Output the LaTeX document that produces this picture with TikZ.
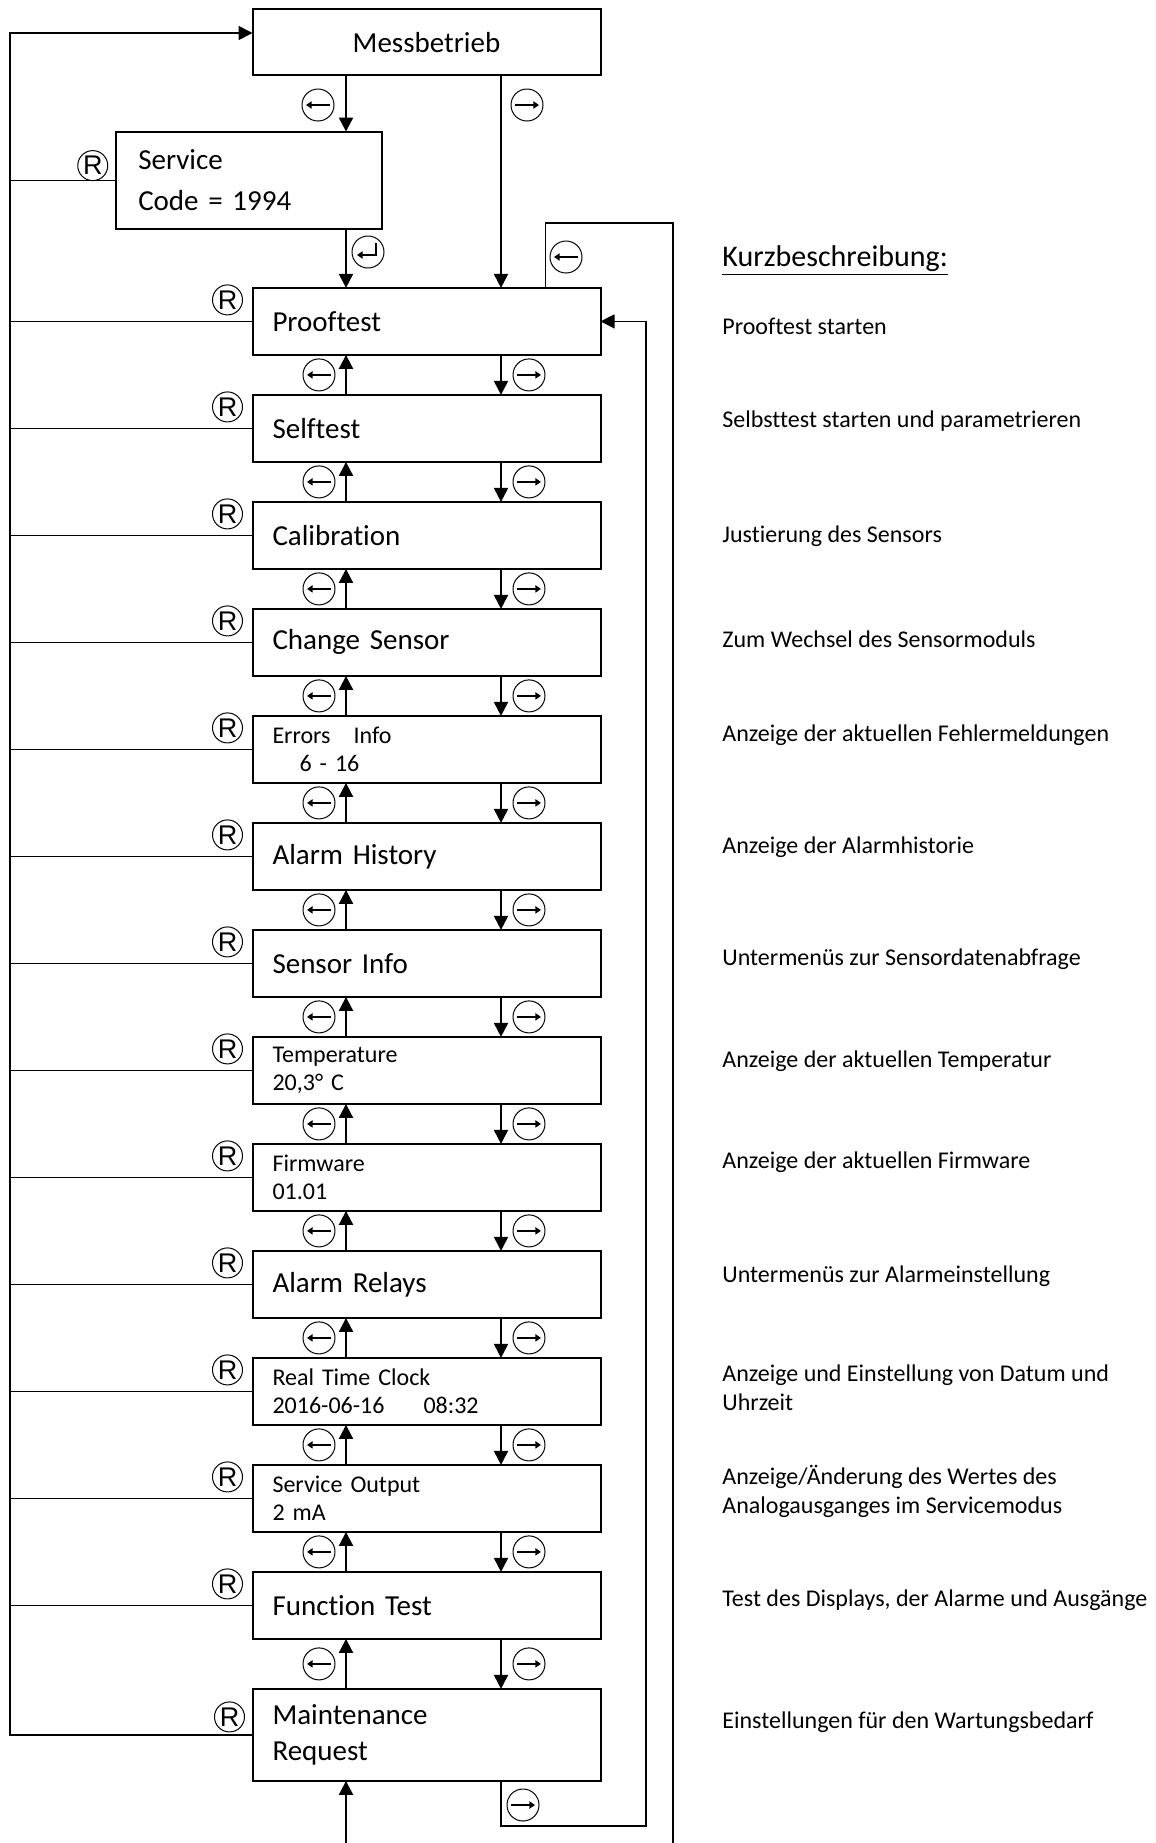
\documentclass[tikz,border=0pt]{standalone}
\usepackage{fontspec}
\setmainfont[Ligatures={NoCommon}]{Carlito}
\newfontfamily\resetfont{Liberation Sans}
\usepackage{tikz}
\usetikzlibrary{positioning}
\usetikzlibrary{arrows.meta}

\begin{document}
\begin{tikzpicture}[
      x=0.5pt, y=-0.5pt,
      >={Triangle[length=7pt,width=7pt]},
      menu/.style={draw, rectangle, line width=1pt, minimum width=174pt,
                   minimum height=33.5pt, text width=154pt, inner xsep=10pt,
                   inner ysep=0pt, outer sep=0pt, align=left,
                   font=\fontsize{14.5}{18.2}\selectfont},
      lcd/.style={menu, font=\fontsize{12}{14}\selectfont},
      nav/.style={->, line width=1pt},
      wire/.style={line width=0.6pt},
      rail/.style={line width=0.9pt},
      reset/.style={draw, circle, line width=0.5pt, minimum size=15pt,
                    inner sep=0pt, font=\resetfont\fontsize{13.5}{13.5}\selectfont},
      keytip/.style={line width=0.8pt, -{Triangle[length=2.8pt,width=3.6pt]}},
      navkey/.style={draw, circle, line width=0.5pt, minimum size=16pt,
                     inner sep=0pt, fill=white},
      keyleft/.style={navkey, path picture={
          \draw[keytip] ([xshift=6pt]path picture bounding box.center)
            -- ([xshift=-6pt]path picture bounding box.center);}},
      keyright/.style={navkey, path picture={
          \draw[keytip] ([xshift=-6pt]path picture bounding box.center)
            -- ([xshift=6pt]path picture bounding box.center);}},
      keyenter/.style={navkey, path picture={
          \draw[keytip] ([shift={(4pt,4.5pt)}]path picture bounding box.center)
            -- ([shift={(4pt,-1.5pt)}]path picture bounding box.center)
            -- ([shift={(-5.5pt,-1.5pt)}]path picture bounding box.center);}},
      desc/.style={anchor=west, align=left, inner sep=0pt,
                   font=\fontsize{12}{14.6}\selectfont}
    ]
    \useasboundingbox (0,0) rectangle (1156,1843);

    % Start screen and service login
    \node[menu, minimum height=33pt, align=center] (mess) at (426.5,42.3) {Messbetrieb};
    \node[menu, minimum width=132.75pt, minimum height=48.7pt, text width=110.75pt,
          inner xsep=11pt, font=\fontsize{14.5}{20.5}\selectfont]
          (service) at (249,180.3) {Service\\Code = 1994};

    % Service menu
    \node[menu, below=106.3pt of mess] (prooftest) {Prooftest};
    \node[menu, below=20pt of prooftest] (selftest) {Selftest};
    \node[menu, below=20pt of selftest] (calib) {Calibration};
    \node[menu, below=20pt of calib] (sensor) {Change Sensor};
    \node[lcd, below=20pt of sensor] (errors) {Errors\hspace{11.5pt}Info\\\hspace*{13.5pt}6 - 16};
    \node[menu, below=20pt of errors] (history) {Alarm History};
    \node[menu, below=20pt of history] (info) {Sensor Info};
    \node[lcd, below=20pt of info] (temp) {Temperature\\20,3° C};
    \node[lcd, below=20pt of temp] (firmware) {Firmware\\01.01};
    \node[menu, below=20pt of firmware] (relays) {Alarm Relays};
    \node[lcd, below=20pt of relays] (clock) {Real Time Clock\\2016-06-16\hspace{19.5pt}08:32};
    \node[lcd, below=20pt of clock] (output) {Service Output\\2 mA};
    \node[menu, below=20pt of output] (functest) {Function Test};
    \node[menu, minimum height=46pt, below=25pt of functest] (maint) {Maintenance\\Request};

    % Entry into the menu
    \draw[nav] ([xshift=-40.25pt]mess.south) -- ([xshift=-40.25pt]mess.south |- service.north);
    \draw[nav] ([xshift=37.25pt]mess.south) -- ([xshift=37.25pt]prooftest.north);
    \draw[nav] ([xshift=-40.25pt]mess.south |- service.south) -- ([xshift=-40.25pt]prooftest.north);
    \node[keyleft] (kl-service) at (318,105) {};
    \node[keyright] (kr-prooftest) at (527,105) {};
    \node[keyenter] (ke-service) at (368,252) {};

    % Scrolling between menu items
    \foreach \upper/\lower in {prooftest/selftest, selftest/calib, calib/sensor,
        sensor/errors, errors/history, history/info, info/temp, temp/firmware,
        firmware/relays, relays/clock, clock/output, output/functest, functest/maint} {
      \draw[nav] ([xshift=-40.25pt]\lower.north) -- ([xshift=-40.25pt]\upper.south);
      \draw[nav] ([xshift=37.25pt]\upper.south) -- ([xshift=37.25pt]\lower.north);
      \path ([xshift=-53.75pt]\upper.south) -- node[keyleft] (kl-\lower) {}
            ([xshift=-53.75pt]\lower.north);
      \path ([xshift=51.25pt]\upper.south) -- node[keyright] (kr-\lower) {}
            ([xshift=51.25pt]\lower.north);
    }

    % Reset back to Messbetrieb
    \coordinate (railtop) at (10,33);
    \draw[rail, ->] (maint.west) -| (railtop) -- (railtop -| mess.west);
    \foreach \b in {service, prooftest, selftest, calib, sensor, errors, history,
        info, temp, firmware, relays, clock, output, functest}
      \draw[wire] (railtop |- \b.west) -- (\b.west);
    \node[reset] (r-service) at ([xshift=-11.75pt,yshift=-17pt]service.north west) {R};
    \foreach \b in {prooftest, selftest, calib, sensor, errors, history,
        info, temp, firmware, relays, clock, output, functest}
      \node[reset] (r-\b) at ([xshift=-12.5pt,yshift=-6pt]\b.north west) {R};
    \node[reset] (r-maint) at ([xshift=-11.5pt,yshift=-14pt]maint.north west) {R};

    % Wrap-around loops
    \coordinate (looptop) at (673,223);
    \coordinate (loopend) at (673,1843);
    \draw[wire] ([xshift=59.6pt]prooftest.north) |- (looptop) -- (loopend);
    \node[keyleft] (kl-loop) at (566,257) {};
    \coordinate (retcorner) at (646,1826);
    \draw[wire, ->] ([xshift=37.25pt]maint.south) |- (retcorner) |- (prooftest.east);
    \node[keyright] (kr-maint) at (523,1805) {};
    \coordinate (entry) at (346,1843);
    \draw[nav] (entry) -- (entry |- maint.south);

    % Short descriptions
    \node[desc, font=\fontsize{15}{18}\selectfont] (title) at (722,261) {\underline{Kurzbeschreibung:}};
    \node[desc] (d-prooftest) at (722,326) {Prooftest starten};
    \node[desc] (d-selftest) at (722,421.5) {Selbsttest starten und parametrieren};
    \node[desc] (d-calib) at (722,536.5) {Justierung des Sensors};
    \node[desc] (d-sensor) at (722,639.5) {Zum Wechsel des Sensormoduls};
    \node[desc] (d-errors) at (722,735.5) {Anzeige der aktuellen Fehlermeldungen};
    \node[desc] (d-history) at (722,847.5) {Anzeige der Alarmhistorie};
    \node[desc] (d-info) at (722,959.5) {Untermenüs zur Sensordatenabfrage};
    \node[desc] (d-temp) at (722,1061.5) {Anzeige der aktuellen Temperatur};
    \node[desc] (d-firmware) at (722,1162.5) {Anzeige der aktuellen Firmware};
    \node[desc] (d-relays) at (722,1276.5) {Untermenüs zur Alarmeinstellung};
    \node[desc] (d-clock) at (722,1387.5) {Anzeige und Einstellung von Datum und\\Uhrzeit};
    \node[desc] (d-output) at (722,1491.5) {Anzeige/Änderung des Wertes des\\Analogausganges im Servicemodus};
    \node[desc] (d-functest) at (722,1600.5) {Test des Displays, der Alarme und Ausgänge};
    \node[desc] (d-maint) at (722,1722.5) {Einstellungen für den Wartungsbedarf};

  \end{tikzpicture}
\end{document}
